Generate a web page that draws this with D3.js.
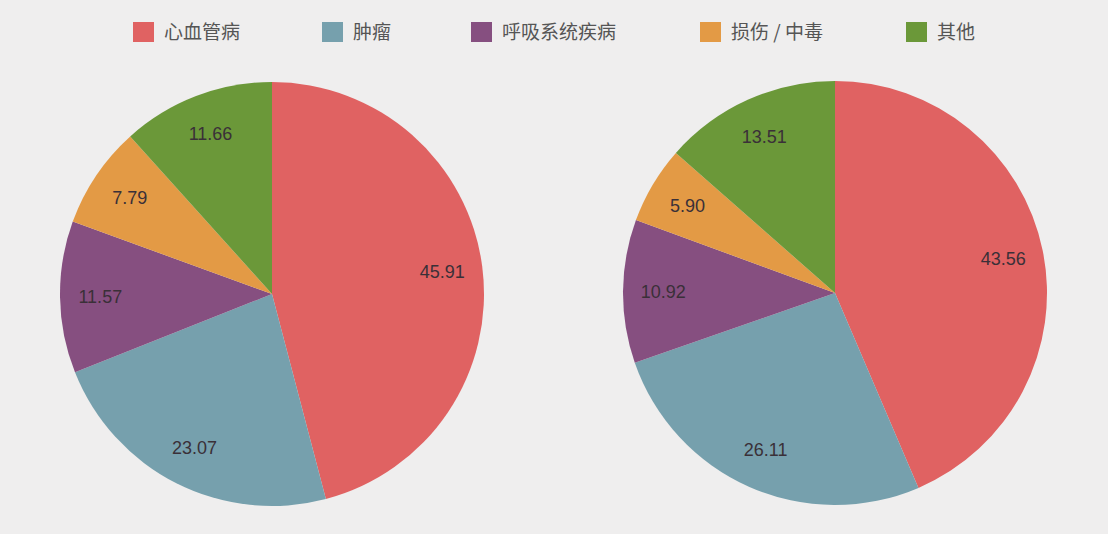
<!DOCTYPE html>
<html>
<head>
<meta charset="utf-8">
<title>Pie</title>
<script src="https://d3js.org/d3.v7.min.js"></script>
<style>
  body { margin: 0; background: #efeeee; }
</style>
</head>
<body>
<div id="chart"></div>
<script>
// categories and the two series (percent)
const categories = ["心血管病", "肿瘤", "呼吸系统疾病", "损伤 / 中毒", "其他"];
const colors = ["#e06262", "#76a0ad", "#864f80", "#e39a45", "#6b9839"];
const leftValues = [45.91, 23.07, 11.57, 7.79, 11.66];
const rightValues = [43.56, 26.11, 10.92, 5.90, 13.51];
const legendX = [133, 322, 471, 700, 906];

const W = 1108, H = 534;
const svg = d3.select("#chart").append("svg")
    .attr("width", W).attr("height", H);

svg.append("rect").attr("width", W).attr("height", H).attr("fill", "#efeeee");

const color = d3.scaleOrdinal().domain(categories).range(colors);

// legend
const legend = svg.append("g");
categories.forEach(function(c, i) {
  const g = legend.append("g").attr("transform", "translate(" + legendX[i] + ",22)");
  g.append("rect").attr("width", 21).attr("height", 20).attr("fill", color(c));
  g.append("text")
      .attr("x", 31).attr("y", 17)
      .attr("font-family", "'Noto Sans CJK SC', sans-serif")
      .attr("font-size", "19px")
      .attr("fill", "#555")
      .text(c);
});

const R = 212;
const pie = d3.pie().sort(null).value(function(d) { return d.v; });
const arc = d3.arc().innerRadius(0).outerRadius(R);
const labelArc = d3.arc().innerRadius(R * 0.81).outerRadius(R * 0.81);

function drawPie(values, cx, cy) {
  const data = values.map(function(v, i) { return {name: categories[i], v: v}; });
  const g = svg.append("g").attr("transform", "translate(" + cx + "," + cy + ")");
  const arcs = pie(data);
  g.selectAll("path")
      .data(arcs)
      .enter()
      .append("path")
      .attr("d", arc)
      .attr("fill", function(d) { return color(d.data.name); });
  g.selectAll("text")
      .data(arcs)
      .enter()
      .append("text")
      .attr("transform", function(d) { return "translate(" + labelArc.centroid(d) + ")"; })
      .attr("text-anchor", "middle")
      .attr("dy", "0.35em")
      .attr("font-family", "'Liberation Sans', Arial, sans-serif")
      .attr("font-size", "18px")
      .attr("fill", "#3a3038")
      .text(function(d) { return d.data.v.toFixed(2); });
}

drawPie(leftValues, 272, 294);
drawPie(rightValues, 835, 293);
</script>
</body>
</html>
